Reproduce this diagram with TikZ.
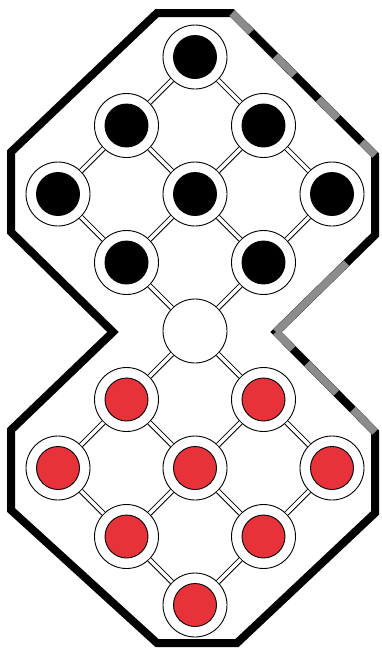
\documentclass[tikz,border=0pt]{standalone}
\definecolor{pegred}{RGB}{232,50,58}
\begin{document}
\begin{tikzpicture}[x=1pt, y=-1pt,
    hole/.style={circle, draw, fill=white, minimum size=64pt, inner sep=0pt, line width=0.9pt},
    blackpeg/.style={hole, path picture={\filldraw[fill=black, line width=0.9pt] (path picture bounding box.center) circle (21.5pt);}},
    redpeg/.style={hole, path picture={\filldraw[fill=pegred, line width=0.9pt] (path picture bounding box.center) circle (21.5pt);}},
    link/.style={double=white, double distance=3.5pt, line width=0.9pt},
    rim/.style={line width=8pt, line join=miter},
    worn/.style={line width=7.6pt, draw=black!45}
  ]
    \useasboundingbox[fill=white] (0,0) rectangle (382,654);

    % board outline
    \coordinate (tl) at (157,13);
    \coordinate (tr) at (232,13);
    \coordinate (er1) at (375,155);
    \coordinate (er2) at (375,235);
    \coordinate (nr) at (276,332);
    \coordinate (er3) at (375,432);
    \coordinate (er4) at (375,513);
    \coordinate (br) at (237,643);
    \coordinate (bl) at (157,643);
    \coordinate (el4) at (11,510);
    \coordinate (el3) at (11,430);
    \coordinate (nl) at (113,332);
    \coordinate (el2) at (11,232);
    \coordinate (el1) at (11,152);
    \draw[rim] (tl) -- (tr) -- (er1) -- (er2) -- (nr) -- (er3) -- (er4) -- (br) -- (bl) -- (el4) -- (el3) -- (nl) -- (el2) -- (el1) -- cycle;

    % worn patches on the right edge
    \draw[worn, dash pattern=on 27pt off 34pt] (tr) -- (er1);
    \draw[worn, dash pattern=on 0pt off 40pt on 200pt] (er2) -- (nr);
    \draw[worn] (nr) -- (er3);
    \draw[line width=7.6pt, dash pattern=on 0pt off 24pt on 20pt off 42pt on 23pt off 100pt] (nr) -- (er3);

    % black pegs
    \node[blackpeg] (b1) at (195,57) {};
    \node[blackpeg] (b2) at (126.5,125.5) {};
    \node[blackpeg] (b3) at (263.5,125.5) {};
    \node[blackpeg] (b4) at (58,194) {};
    \node[blackpeg] (b5) at (195,194) {};
    \node[blackpeg] (b6) at (332,194) {};
    \node[blackpeg] (b7) at (126.5,262.5) {};
    \node[blackpeg] (b8) at (263.5,262.5) {};

    % empty hole
    \node[hole] (mid) at (195,331) {};

    % red pegs
    \node[redpeg] (r1) at (126.5,399.5) {};
    \node[redpeg] (r2) at (263.5,399.5) {};
    \node[redpeg] (r3) at (58,468) {};
    \node[redpeg] (r4) at (195,468) {};
    \node[redpeg] (r5) at (332,468) {};
    \node[redpeg] (r6) at (126.5,536.5) {};
    \node[redpeg] (r7) at (263.5,536.5) {};
    \node[redpeg] (r8) at (195,605) {};

    % links, upper half
    \draw[link] (b1) -- (b2);
    \draw[link] (b1) -- (b3);
    \draw[link] (b2) -- (b4);
    \draw[link] (b2) -- (b5);
    \draw[link] (b3) -- (b5);
    \draw[link] (b3) -- (b6);
    \draw[link] (b4) -- (b7);
    \draw[link] (b5) -- (b7);
    \draw[link] (b5) -- (b8);
    \draw[link] (b6) -- (b8);
    \draw[link] (b7) -- (mid);
    \draw[link] (b8) -- (mid);

    % links, lower half
    \draw[link] (mid) -- (r1);
    \draw[link] (mid) -- (r2);
    \draw[link] (r1) -- (r3);
    \draw[link] (r1) -- (r4);
    \draw[link] (r2) -- (r4);
    \draw[link] (r2) -- (r5);
    \draw[link] (r3) -- (r6);
    \draw[link] (r4) -- (r6);
    \draw[link] (r4) -- (r7);
    \draw[link] (r5) -- (r7);
    \draw[link] (r6) -- (r8);
    \draw[link] (r7) -- (r8);
  \end{tikzpicture}
\end{document}
